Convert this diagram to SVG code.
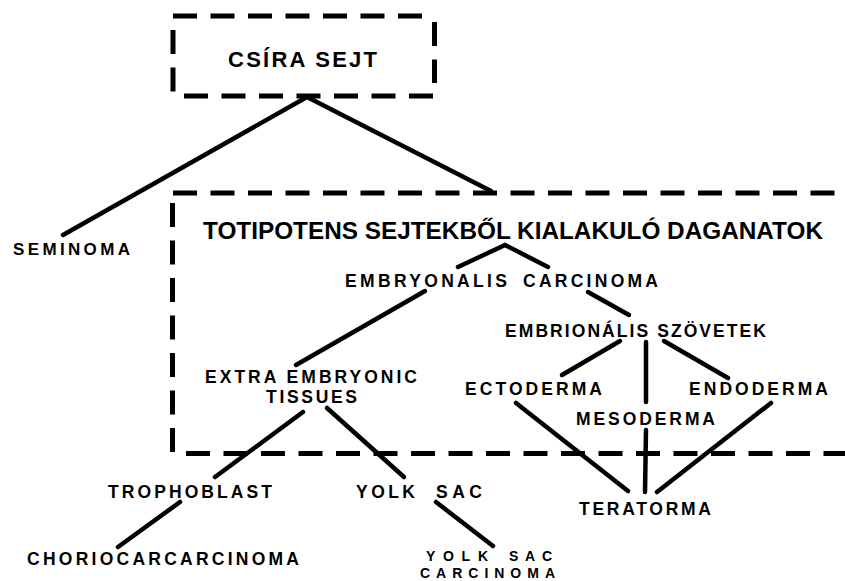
<svg xmlns="http://www.w3.org/2000/svg" width="845" height="581" viewBox="0 0 845 581">
<style>
text{font-family:"Liberation Sans",Arial,sans-serif;font-weight:bold;fill:#000;}
.t{font-size:17.5px;}
.s{font-size:17px;}
.y{font-size:14px;}
.dash{stroke:#000;stroke-width:5;stroke-dasharray:24 13.5;fill:none;}
.c line{stroke:#000;stroke-width:4.5;stroke-linecap:round;}
</style>
<rect width="845" height="581" fill="#fff"/>
<g id="csira-sejt">
<line class="dash" x1="173" y1="16" x2="425" y2="16"/>
<line class="dash" x1="173" y1="30" x2="173" y2="93"/>
<line class="dash" x1="434.5" y1="22" x2="434.5" y2="83"/>
<line class="dash" x1="184" y1="96" x2="434" y2="96"/>
<text x="228" y="67" font-size="22" textLength="149">CSÍRA SEJT</text>
</g>
<g id="totipotens">
<line class="dash" x1="173" y1="193" x2="845" y2="193"/>
<line class="dash" x1="172.5" y1="203" x2="172.5" y2="455"/>
<line class="dash" x1="186" y1="453.5" x2="845" y2="453.5"/>
<text x="203" y="239" font-size="23.5" textLength="620" lengthAdjust="spacingAndGlyphs">TOTIPOTENS SEJTEKBŐL KIALAKULÓ DAGANATOK</text>
</g>
<g id="seminoma"><text class="s" x="13" y="255" textLength="117">SEMINOMA</text></g>
<g id="embryonalis-carcinoma">
<text class="t" x="345" y="287" textLength="162">EMBRYONALIS</text>
<text class="t" x="523" y="287" textLength="135">CARCINOMA</text>
</g>
<g id="embrionalis-szovetek"><text class="t" x="505" y="337" textLength="261">EMBRIONÁLIS SZÖVETEK</text></g>
<g id="extra-embryonic">
<text class="t" x="205" y="383" textLength="212">EXTRA EMBRYONIC</text>
<text class="t" x="266" y="403" textLength="91">TISSUES</text>
</g>
<g id="ectoderma"><text class="t" x="465" y="395" textLength="137">ECTODERMA</text></g>
<g id="mesoderma"><text class="t" x="576" y="425" textLength="139">MESODERMA</text></g>
<g id="endoderma"><text class="t" x="689" y="395" textLength="139">ENDODERMA</text></g>
<g id="trophoblast"><text class="t" x="108" y="498" textLength="164">TROPHOBLAST</text></g>
<g id="yolk-sac">
<text class="t" x="356" y="498" textLength="59">YOLK</text>
<text class="t" x="436" y="498" textLength="46">SAC</text>
</g>
<g id="teratorma"><text class="t" x="579" y="515" textLength="132">TERATORMA</text></g>
<g id="choriocarcarcinoma"><text class="t" x="27" y="565" textLength="272">CHORIOCARCARCINOMA</text></g>
<g id="yolk-sac-carcinoma">
<text class="y" x="426" y="561" textLength="62">YOLK</text>
<text class="y" x="509" y="561" textLength="43">SAC</text>
<text class="y" x="420" y="578" textLength="135">CARCINOMA</text>
</g>
<g id="connectors" class="c">
<line x1="307" y1="97" x2="63" y2="235"/>
<line x1="307" y1="97" x2="491" y2="191"/>
<line x1="505" y1="245" x2="458" y2="267"/>
<line x1="505" y1="245" x2="548" y2="267"/>
<line x1="425" y1="291" x2="296" y2="365"/>
<line x1="588" y1="292" x2="629" y2="315"/>
<line x1="620" y1="341" x2="562" y2="375"/>
<line x1="646" y1="342" x2="646" y2="402"/>
<line x1="664" y1="341" x2="728" y2="378"/>
<line x1="303" y1="412" x2="215" y2="477"/>
<line x1="327" y1="408" x2="404" y2="477"/>
<line x1="516" y1="403" x2="628" y2="491"/>
<line x1="646" y1="430" x2="645" y2="492"/>
<line x1="771" y1="403" x2="657" y2="492"/>
<line x1="180" y1="502" x2="118" y2="547"/>
<line x1="436" y1="502" x2="493" y2="546"/>
</g>
</svg>
